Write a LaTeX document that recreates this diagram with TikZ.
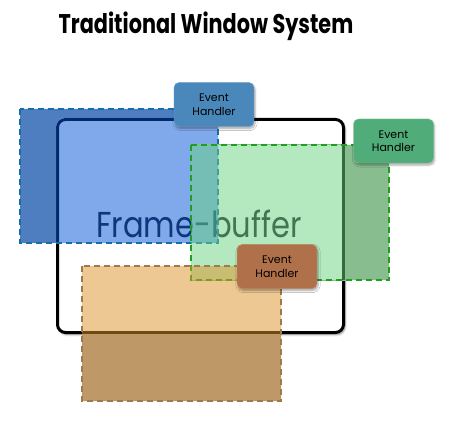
\documentclass[tikz,border=0pt]{standalone}
\usepackage{fontspec}
\setmainfont{Poppins}
\usetikzlibrary{positioning,shadows.blur}

\definecolor{blueout}{RGB}{79,126,192}
\definecolor{bluein}{RGB}{0,85,215}
\definecolor{blueline}{RGB}{20,110,170}
\definecolor{greenout}{RGB}{136,189,143}
\definecolor{greenin}{RGB}{107,211,129}
\definecolor{greenline}{RGB}{30,160,30}
\definecolor{brownout}{RGB}{191,152,104}
\definecolor{brownin}{RGB}{223,147,41}
\definecolor{brownline}{RGB}{160,120,80}
\definecolor{bluehd}{RGB}{74,136,187}
\definecolor{greenhd}{RGB}{80,172,121}
\definecolor{brownhd}{RGB}{176,113,74}

\begin{document}
\begin{tikzpicture}[x=1pt, y=-1pt,
    frame/.style={rectangle, draw=black, line width=3pt, rounded corners=8pt, fill=white, minimum width=286pt, minimum height=213pt, blur shadow={shadow xshift=1.5pt, shadow yshift=-2pt, shadow blur steps=6, shadow opacity=45}},
    handler/.style={rectangle, draw=#1!75!white, fill=#1, rounded corners=5pt, minimum width=80pt, minimum height=44pt, font=\fontsize{11}{13.5}\selectfont, align=center, text=black, blur shadow={shadow xshift=1pt, shadow yshift=-2pt, shadow blur steps=5, shadow opacity=35}},
    winin/.style={fill=#1, fill opacity=0.5},
    winout/.style={fill=#1, even odd rule},
    winborder/.style={draw=#1, line width=2pt, dash pattern=on 6pt off 4pt}
]
\useasboundingbox (0,0) rectangle (453,425);

% Title
\node[font=\bfseries\fontsize{27}{30}\selectfont] (title) at (206,26) {\scalebox{0.77}[1]{Traditional Window System}};

% Frame-buffer
\node[frame] (fb) at (200.5,226) {};
\node[font=\fontsize{36}{40}\selectfont, text={rgb,255:red,25;green,25;blue,35}] (fbtext) at (199,224) {\scalebox{0.85}[1]{Frame-buffer}};

% Blue window
\begin{scope}
  \clip (20,109) rectangle (218,243);
  \fill[winout=blueout] (20,109) rectangle (218,243) [rounded corners=9pt] (56,118) rectangle (345,334);
\end{scope}
\begin{scope}
  \clip[rounded corners=9pt] (56,118) rectangle (345,334);
  \fill[winin=bluein] (20,109) rectangle (218,243);
\end{scope}
\draw[winborder=blueline] (20,109) rectangle (218,243);

% Green window
\begin{scope}
  \clip (191,145) rectangle (389,280);
  \fill[winout=greenout] (191,145) rectangle (389,280) [rounded corners=9pt] (56,118) rectangle (345,334);
\end{scope}
\begin{scope}
  \clip[rounded corners=9pt] (56,118) rectangle (345,334);
  \fill[winin=greenin] (191,145) rectangle (389,280);
\end{scope}
\draw[winborder=greenline] (191,145) rectangle (389,280);

% Brown window
\begin{scope}
  \clip (82,266) rectangle (281,401);
  \fill[winout=brownout] (82,266) rectangle (281,401) [rounded corners=9pt] (56,118) rectangle (345,334);
\end{scope}
\begin{scope}
  \clip[rounded corners=9pt] (56,118) rectangle (345,334);
  \fill[winin=brownin] (82,266) rectangle (281,401);
\end{scope}
\draw[winborder=brownline] (82,266) rectangle (281,401);

% Event handlers
\node[handler=bluehd] (bluehandler) at (214,104.5) {Event\\Handler};
\node[handler=greenhd] (greenhandler) at (393.5,141) {Event\\Handler};
\node[handler=brownhd] (brownhandler) at (277,266.5) {Event\\Handler};

\end{tikzpicture}
\end{document}
